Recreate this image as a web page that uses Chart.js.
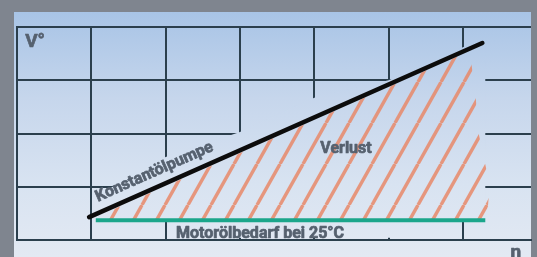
<!DOCTYPE html>
<html><head><meta charset="utf-8">
<script src="https://cdn.jsdelivr.net/npm/chart.js@4/dist/chart.umd.min.js"></script>
<style>
html,body{margin:0;padding:0;background:#7f858f;width:537px;height:257px;overflow:hidden}
#panel{position:absolute;left:14px;top:12px;width:517px;height:245px;background:linear-gradient(#a8c4e6 0%,#c6d6ec 35%,#d8e3f1 70%,#e3e9f3 100%)}
#wrap{position:absolute;left:0;top:0;width:537px;height:257px}
</style></head><body>
<div id="panel"></div>
<div id="wrap"><canvas id="c" width="537" height="257"></canvas></div>
<script>
// ---- data (schematic: n = engine speed, V° = oil flow) ----
const xGridTicks = [0, 1, 2, 3, 4, 5, 6];
const yGridTicks = [0, 1, 2, 3, 4];
const pumpN   = [0.97, 6.26];          // Konstantölpumpe
const pumpV   = [0.43, 3.70];
const demandN = [1.06, 6.30];          // Motorölbedarf bei 25°C
const demandV = [0.37, 0.37];
const lossN   = [1.08, 6.09, 6.17, 6.20, 6.36, 6.32, 1.08];   // Verlust (hatched area)
const lossV   = [0.44, 3.55, 2.72, 2.07, 1.03, 0.38, 0.38];
const clearN  = [1.03, 1.29, 2.0, 3.0, 4.0, 5.0, 6.0, 6.30, 6.30, 5.93, 5.93, 2.03, 2.03, 1.03];
const clearV  = [0.82, 1.0, 1.56, 2.03, 2.67, 3.0, 3.62, 3.80, 0.34, 0.34, 0.04, 0.04, 0.34, 0.34];
const labels = [
  {text: 'V°', n: 0.11, v: 3.62, size: 19, rot: 0},
  {text: 'n', n: 6.64, v: -0.33, size: 19, rot: 0},
  {text: 'Verlust', n: 4.08, v: 1.64, size: 16, rot: 0},
  {text: 'Motorölbedarf bei 25°C', n: 2.14, v: 0.045, size: 16, rot: 0},
  {text: 'Konstantölpumpe', n: 1.09, v: 0.72, size: 16, rot: -23.9}
];

const zip = (a, b) => a.map((x, i) => ({x: x, y: b[i]}));
const gridColor = '#2b3f4d';
const textColor = '#56616f';
const FONT = 'Roboto, "DejaVu Sans", sans-serif';

function panelGradient(chart) {
  const g = chart.ctx.createLinearGradient(0, 12, 0, 257);
  g.addColorStop(0, '#a8c4e6');
  g.addColorStop(0.35, '#c6d6ec');
  g.addColorStop(0.70, '#d8e3f1');
  g.addColorStop(1, '#e3e9f3');
  return g;
}
function hatchPattern() {
  const W = 23, H = 41;
  const t = document.createElement('canvas');
  t.width = W; t.height = H;
  const c = t.getContext('2d');
  c.strokeStyle = 'rgba(232,136,104,0.85)';
  c.lineWidth = 3.4;
  for (let k = -1; k <= 1; k++) {
    c.beginPath();
    c.moveTo(k * W, H);
    c.lineTo(k * W + W, 0);
    c.stroke();
  }
  const p = document.getElementById('c').getContext('2d').createPattern(t, 'repeat');
  if (p.setTransform) p.setTransform(new DOMMatrix().translate(4, 0));
  return p;
}

const labelPlugin = {
  id: 'labels',
  afterDraw(chart) {
    const {ctx, scales: {x, y}} = chart;
    ctx.save();
    ctx.fillStyle = textColor;
    ctx.strokeStyle = textColor;
    ctx.lineWidth = 0.7;
    ctx.lineJoin = 'round';
    ctx.textBaseline = 'alphabetic';
    ctx.textAlign = 'left';
    labels.forEach(l => {
      ctx.save();
      ctx.translate(x.getPixelForValue(l.n), y.getPixelForValue(l.v));
      ctx.rotate(l.rot * Math.PI / 180);
      ctx.font = 'bold ' + l.size + 'px ' + FONT;
      ctx.fillText(l.text, 0, 0);
      ctx.strokeText(l.text, 0, 0);
      ctx.restore();
    });
    ctx.restore();
  }
};

new Chart(document.getElementById('c'), {
  type: 'line',
  data: {
    datasets: [
      {data: zip(clearN, clearV), fill: 'shape', borderWidth: 0, pointRadius: 0,
       backgroundColor: (ctx) => panelGradient(ctx.chart), order: 5},
      {data: zip(lossN, lossV), fill: 'shape', borderWidth: 0, pointRadius: 0,
       backgroundColor: hatchPattern(), order: 4},
      {data: zip(demandN, demandV), borderColor: '#1ba68b', borderWidth: 4, pointRadius: 0, fill: false, order: 3},
      {data: zip(pumpN, pumpV), borderColor: '#0c0c0c', borderWidth: 4.5, pointRadius: 0, fill: false,
       borderCapStyle: 'round', order: 2}
    ]
  },
  options: {
    responsive: false,
    devicePixelRatio: 1,
    animation: false,
    events: [],
    layout: {padding: {left: 17, top: 27, right: 6, bottom: 17}},
    plugins: {legend: {display: false}, tooltip: {enabled: false}},
    scales: {
      x: {type: 'linear', min: 0, max: 6.915,
          afterBuildTicks: (s) => { s.ticks = xGridTicks.map(v => ({value: v})); },
          ticks: {display: false},
          grid: {color: gridColor, lineWidth: 2, drawTicks: false},
          border: {display: true, color: gridColor, width: 2}},
      y: {type: 'linear', min: 0, max: 4,
          afterBuildTicks: (s) => { s.ticks = yGridTicks.map(v => ({value: v})); },
          ticks: {display: false},
          grid: {color: gridColor, lineWidth: 2, drawTicks: false},
          border: {display: true, color: gridColor, width: 2}}
    }
  },
  plugins: [labelPlugin]
});
</script>
</body></html>
